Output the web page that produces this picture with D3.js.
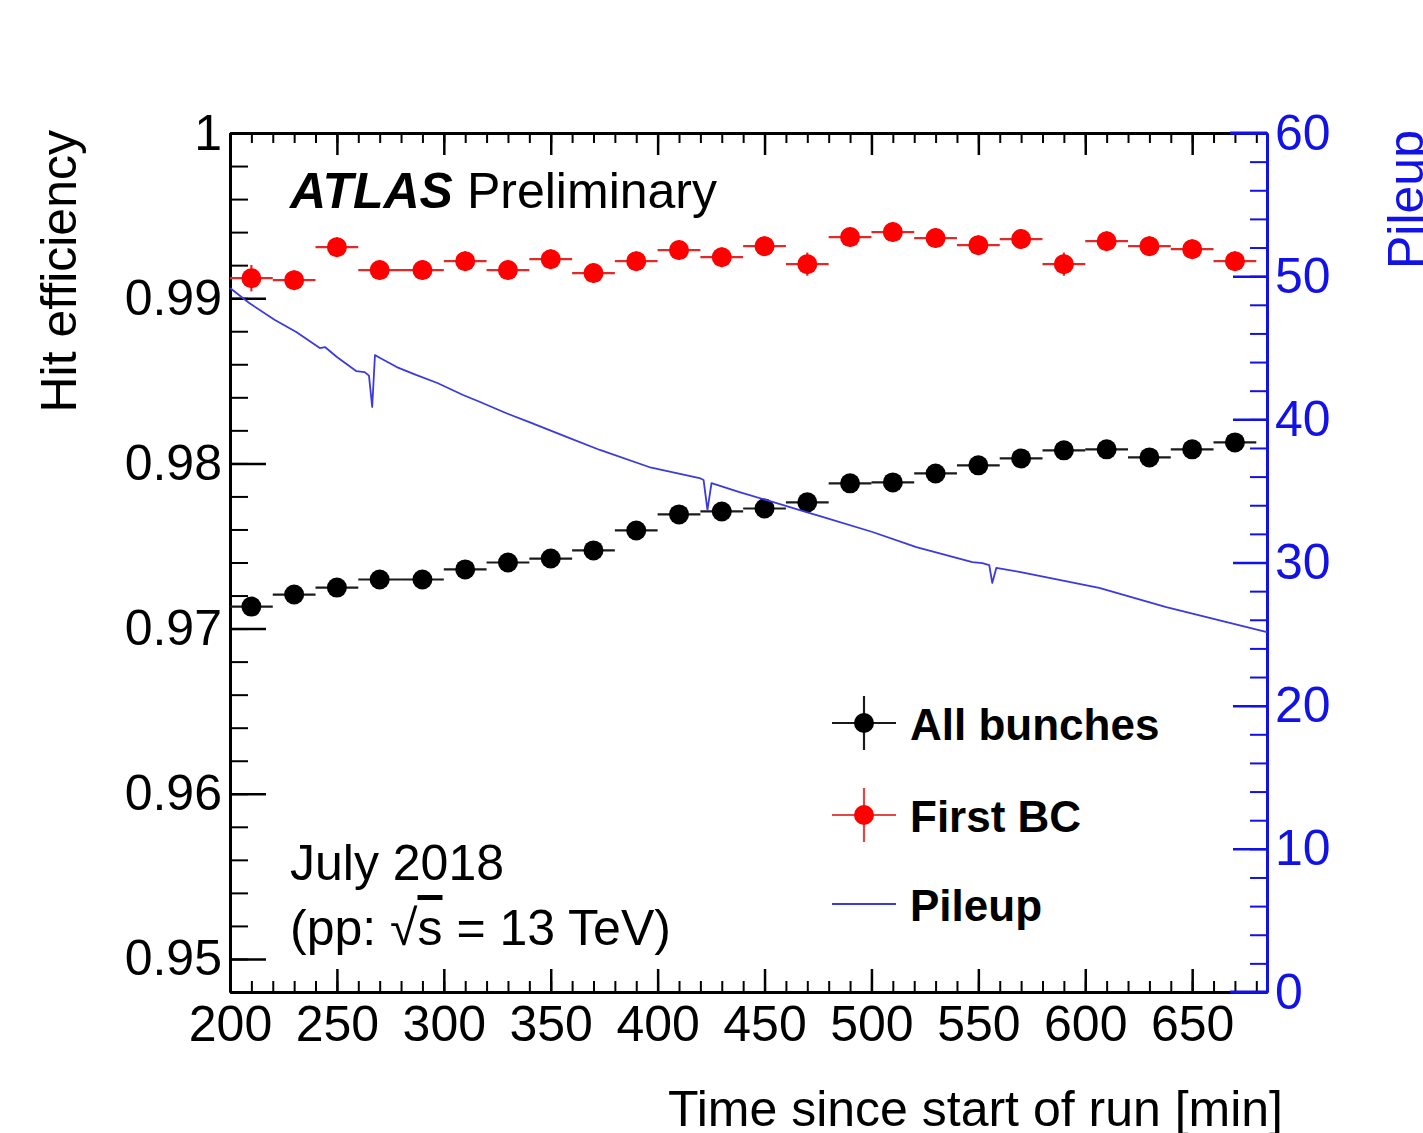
<!DOCTYPE html>
<html>
<head>
<meta charset="utf-8">
<script src="https://cdn.jsdelivr.net/npm/d3@7"></script>
<style>
  body { margin: 0; background: #fff; }
  svg { display: block; font-family: "Liberation Sans", Arial, Helvetica, sans-serif; }
</style>
</head>
<body>
<div id="graph"></div>
<script>
// data
const timeBins = [210, 230, 250, 270, 290, 310, 330, 350, 370, 390, 410, 430,
  450, 470, 490, 510, 530, 550, 570, 590, 610, 630, 650, 670];
const binHalfWidth = 10;

const effAll = [0.97133, 0.97206, 0.97248, 0.97297, 0.97297, 0.97358, 0.97400, 0.97424,
  0.97473, 0.97594, 0.97691, 0.97709, 0.97727, 0.97764, 0.97879, 0.97885,
  0.97939, 0.97988, 0.98030, 0.98079, 0.98085, 0.98036, 0.98085, 0.98127];
const effAllErr = [0.0005, 0.0005, 0.0005, 0.0005, 0.0005, 0.0005, 0.0005, 0.0005,
  0.0005, 0.0005, 0.0005, 0.0005, 0.0005, 0.0005, 0.0005, 0.0005,
  0.0005, 0.0005, 0.0005, 0.0005, 0.0005, 0.0005, 0.0005, 0.0005];

const effFirst = [0.99121, 0.99109, 0.99309, 0.99170, 0.99170, 0.99224, 0.99170, 0.99236,
  0.99152, 0.99224, 0.99291, 0.99248, 0.99315, 0.99206, 0.99370, 0.99400,
  0.99364, 0.99321, 0.99358, 0.99206, 0.99345, 0.99315, 0.99297, 0.99224];
const effFirstErr = [0.0008, 0.0006, 0.0006, 0.0006, 0.0006, 0.0006, 0.0006, 0.0006,
  0.0006, 0.0006, 0.0006, 0.0006, 0.0006, 0.0007, 0.0006, 0.0006,
  0.0006, 0.0006, 0.0006, 0.0007, 0.0006, 0.0006, 0.0006, 0.0006];

const pileupTime = [200, 209, 221, 231, 242, 244.4, 250, 259, 263, 265, 266.5, 267.8,
  270, 278, 287, 297, 309, 317, 329, 340, 356.5, 373, 396, 419.6, 421.5, 423.3, 425.2,
  438.3, 458.4, 477.1, 500.5, 521, 547.2, 551.9, 555.1, 556.5, 558.4, 569.2,
  606.5, 637.9, 685];
const pileupValue = [49.17, 48.12, 46.94, 46.10, 44.98, 45.05, 44.35, 43.37, 43.30, 43.05, 40.86, 44.49,
  44.30, 43.65, 43.10, 42.54, 41.70, 41.21, 40.44, 39.81, 38.83, 37.86, 36.67, 35.90, 35.76, 33.67, 35.55,
  34.92, 34.02, 33.18, 32.13, 31.08, 30.03, 29.96, 29.82, 28.57, 29.62, 29.34,
  28.22, 26.89, 25.14];

const timeTicks = [200, 250, 300, 350, 400, 450, 500, 550, 600, 650];
const effTicks = [0.95, 0.96, 0.97, 0.98, 0.99, 1];
const pileupTicks = [0, 10, 20, 30, 40, 50, 60];

const timeDomain = [200, 685];
const effDomain = [0.948, 1];
const pileupDomain = [0, 60];

const blackColor = '#000000';
const redColor = '#ff0000';
const axisBlue = '#1212e6';
const lineBlue = '#3a3ae0';

let dimensions = {
  width: 1423,
  height: 1133,
  margin: {
    top: 133,
    right: 156,
    bottom: 141,
    left: 230,
  },
}
dimensions.boundedWidth = dimensions.width
  - dimensions.margin.left
  - dimensions.margin.right;
dimensions.boundedHeight = dimensions.height
  - dimensions.margin.top
  - dimensions.margin.bottom;

async function drawChart() {
  const wrapper = d3.select("#graph")
    .append("svg")
    .attr("width", dimensions.width)
    .attr("height", dimensions.height);

  wrapper.append("rect")
    .attr("width", dimensions.width)
    .attr("height", dimensions.height)
    .attr("fill", "#fff");

  const bounds = wrapper.append("g")
    .attr("transform", `translate(${dimensions.margin.left},${dimensions.margin.top})`);

  const xScaler = d3.scaleLinear()
    .domain(timeDomain)
    .range([0, dimensions.boundedWidth]);
  const yScaler = d3.scaleLinear()
    .domain(effDomain)
    .range([dimensions.boundedHeight, 0]);
  const pScaler = d3.scaleLinear()
    .domain(pileupDomain)
    .range([dimensions.boundedHeight, 0]);

  const timeMinor = d3.range(200, 686, 10);
  const effMinor = d3.range(948, 1001, 2).map(d => d / 1000);
  const pileupMinor = d3.range(0, 61, 2);

  const styleAxis = (g, color, width) => {
    g.attr("font-size", 50)
      .attr("font-family", '"Liberation Sans", Arial, sans-serif');
    g.selectAll("line").attr("stroke", color).attr("stroke-width", width);
    g.select(".domain").attr("stroke", color).attr("stroke-width", width + 0.5);
    g.selectAll("text").attr("fill", color);
  }

  // bottom axis
  bounds.append("g")
    .attr("transform", `translate(0,${dimensions.boundedHeight})`)
    .call(d3.axisBottom(xScaler).tickValues(timeMinor).tickSizeInner(-11).tickSizeOuter(0).tickFormat(""))
    .call(g => styleAxis(g, blackColor, 2));
  bounds.append("g")
    .attr("transform", `translate(0,${dimensions.boundedHeight})`)
    .call(d3.axisBottom(xScaler).tickValues(timeTicks).tickSizeInner(-23).tickSizeOuter(0).tickPadding(13))
    .call(g => styleAxis(g, blackColor, 2.5));

  // top axis (mirror, no labels)
  bounds.append("g")
    .call(d3.axisTop(xScaler).tickValues(timeMinor).tickSizeInner(-10).tickSizeOuter(0).tickFormat(""))
    .call(g => styleAxis(g, blackColor, 2));
  bounds.append("g")
    .call(d3.axisTop(xScaler).tickValues(timeTicks).tickSizeInner(-22).tickSizeOuter(0).tickFormat(""))
    .call(g => styleAxis(g, blackColor, 2.5));

  // left axis
  bounds.append("g")
    .call(d3.axisLeft(yScaler).tickValues(effMinor).tickSizeInner(-18).tickSizeOuter(0).tickFormat(""))
    .call(g => styleAxis(g, blackColor, 2));
  bounds.append("g")
    .call(d3.axisLeft(yScaler).tickValues(effTicks).tickSizeInner(-36).tickSizeOuter(0).tickPadding(8)
      .tickFormat(d => d === 1 ? "1" : d3.format(".2f")(d)))
    .call(g => styleAxis(g, blackColor, 2.5));

  // right (pileup) axis
  const rightAxis = bounds.append("g")
    .attr("transform", `translate(${dimensions.boundedWidth},0)`);
  rightAxis.append("g")
    .call(d3.axisRight(pScaler).tickValues(pileupMinor).tickSizeInner(-17).tickSizeOuter(0).tickFormat(""))
    .call(g => styleAxis(g, axisBlue, 2));
  rightAxis.append("g")
    .call(d3.axisRight(pScaler).tickValues(pileupTicks).tickSizeInner(-34).tickSizeOuter(0).tickPadding(8))
    .call(g => styleAxis(g, axisBlue, 2.5));
  // blue overlap of the frame near the right corners
  rightAxis.selectAll("line.corner")
    .data([0, dimensions.boundedHeight])
    .enter()
    .append("line")
    .attr("x1", -37).attr("x2", 0)
    .attr("y1", d => d).attr("y2", d => d)
    .attr("stroke", axisBlue)
    .attr("stroke-width", 3);

  // data points with error bars
  const drawSeries = (values, errors, color, barColor) => {
    const g = bounds.append("g");
    const pts = timeBins.map((t, i) => ({ t, v: values[i], e: errors[i] }));
    g.selectAll("line.h")
      .data(pts)
      .enter()
      .append("line")
      .attr("x1", d => xScaler(d.t - binHalfWidth))
      .attr("x2", d => xScaler(d.t + binHalfWidth))
      .attr("y1", d => yScaler(d.v))
      .attr("y2", d => yScaler(d.v))
      .attr("stroke", barColor)
      .attr("stroke-width", 2.2);
    g.selectAll("line.v")
      .data(pts)
      .enter()
      .append("line")
      .attr("x1", d => xScaler(d.t))
      .attr("x2", d => xScaler(d.t))
      .attr("y1", d => yScaler(d.v - d.e))
      .attr("y2", d => yScaler(d.v + d.e))
      .attr("stroke", barColor)
      .attr("stroke-width", 2.2);
    g.selectAll("circle")
      .data(pts)
      .enter()
      .append("circle")
      .attr("cx", d => xScaler(d.t))
      .attr("cy", d => yScaler(d.v))
      .attr("r", 10)
      .attr("fill", color);
  }
  drawSeries(effAll, effAllErr, blackColor, '#1a1a1a');
  drawSeries(effFirst, effFirstErr, redColor, '#e02a2a');

  // pileup curve
  const pileLine = d3.line()
    .x((d, i) => xScaler(pileupTime[i]))
    .y(d => pScaler(d));
  bounds.append("path")
    .datum(pileupValue)
    .attr("d", pileLine)
    .attr("fill", "none")
    .attr("stroke", lineBlue)
    .attr("stroke-width", 1.8)
    .attr("stroke-linejoin", "round");

  // axis titles
  wrapper.append("text")
    .attr("transform", "translate(76,130) rotate(-90)")
    .attr("text-anchor", "end")
    .attr("font-size", 50)
    .attr("fill", blackColor)
    .text("Hit efficiency");

  wrapper.append("text")
    .attr("transform", "translate(1423,130) rotate(-90)")
    .attr("text-anchor", "end")
    .attr("font-size", 50)
    .attr("fill", axisBlue)
    .text("Pileup");

  wrapper.append("text")
    .attr("x", 1283)
    .attr("y", 1126)
    .attr("text-anchor", "end")
    .attr("font-size", 50)
    .attr("fill", blackColor)
    .text("Time since start of run [min]");

  // ATLAS label
  const atlas = wrapper.append("text")
    .attr("x", 290)
    .attr("y", 208)
    .attr("font-size", 50)
    .attr("fill", blackColor);
  atlas.append("tspan")
    .attr("font-weight", "bold")
    .attr("font-style", "italic")
    .text("ATLAS");
  atlas.append("tspan")
    .attr("dx", 14)
    .text("Preliminary");

  wrapper.append("text")
    .attr("x", 290)
    .attr("y", 880)
    .attr("font-size", 50)
    .attr("fill", blackColor)
    .text("July 2018");

  const energy = wrapper.append("text")
    .attr("x", 290)
    .attr("y", 945)
    .attr("font-size", 50)
    .attr("fill", blackColor);
  energy.append("tspan").text("(pp: \u221A");
  energy.append("tspan").style("text-decoration", "overline").text("s");
  energy.append("tspan").text(" = 13 TeV)");

  // legend
  const legend = wrapper.append("g");
  const legendItems = [
    { label: "All bunches", y: 723, color: blackColor, bar: '#1a1a1a', type: 'point' },
    { label: "First BC", y: 815, color: redColor, bar: '#e04848', type: 'point' },
    { label: "Pileup", y: 904, color: lineBlue, bar: lineBlue, type: 'line' },
  ];
  legendItems.forEach(item => {
    legend.append("line")
      .attr("x1", 832).attr("x2", 896)
      .attr("y1", item.y).attr("y2", item.y)
      .attr("stroke", item.bar)
      .attr("stroke-width", item.type === 'line' ? 1.8 : 2.2);
    if (item.type === 'point') {
      legend.append("line")
        .attr("x1", 864).attr("x2", 864)
        .attr("y1", item.y - 27).attr("y2", item.y + 27)
        .attr("stroke", item.bar)
        .attr("stroke-width", 2.2);
      legend.append("circle")
        .attr("cx", 864).attr("cy", item.y)
        .attr("r", 10)
        .attr("fill", item.color);
    }
    legend.append("text")
      .attr("x", 910)
      .attr("y", item.y + 17)
      .attr("font-size", 44)
      .attr("font-weight", "bold")
      .attr("fill", blackColor)
      .text(item.label);
  });
}

drawChart()
</script>
</body>
</html>
